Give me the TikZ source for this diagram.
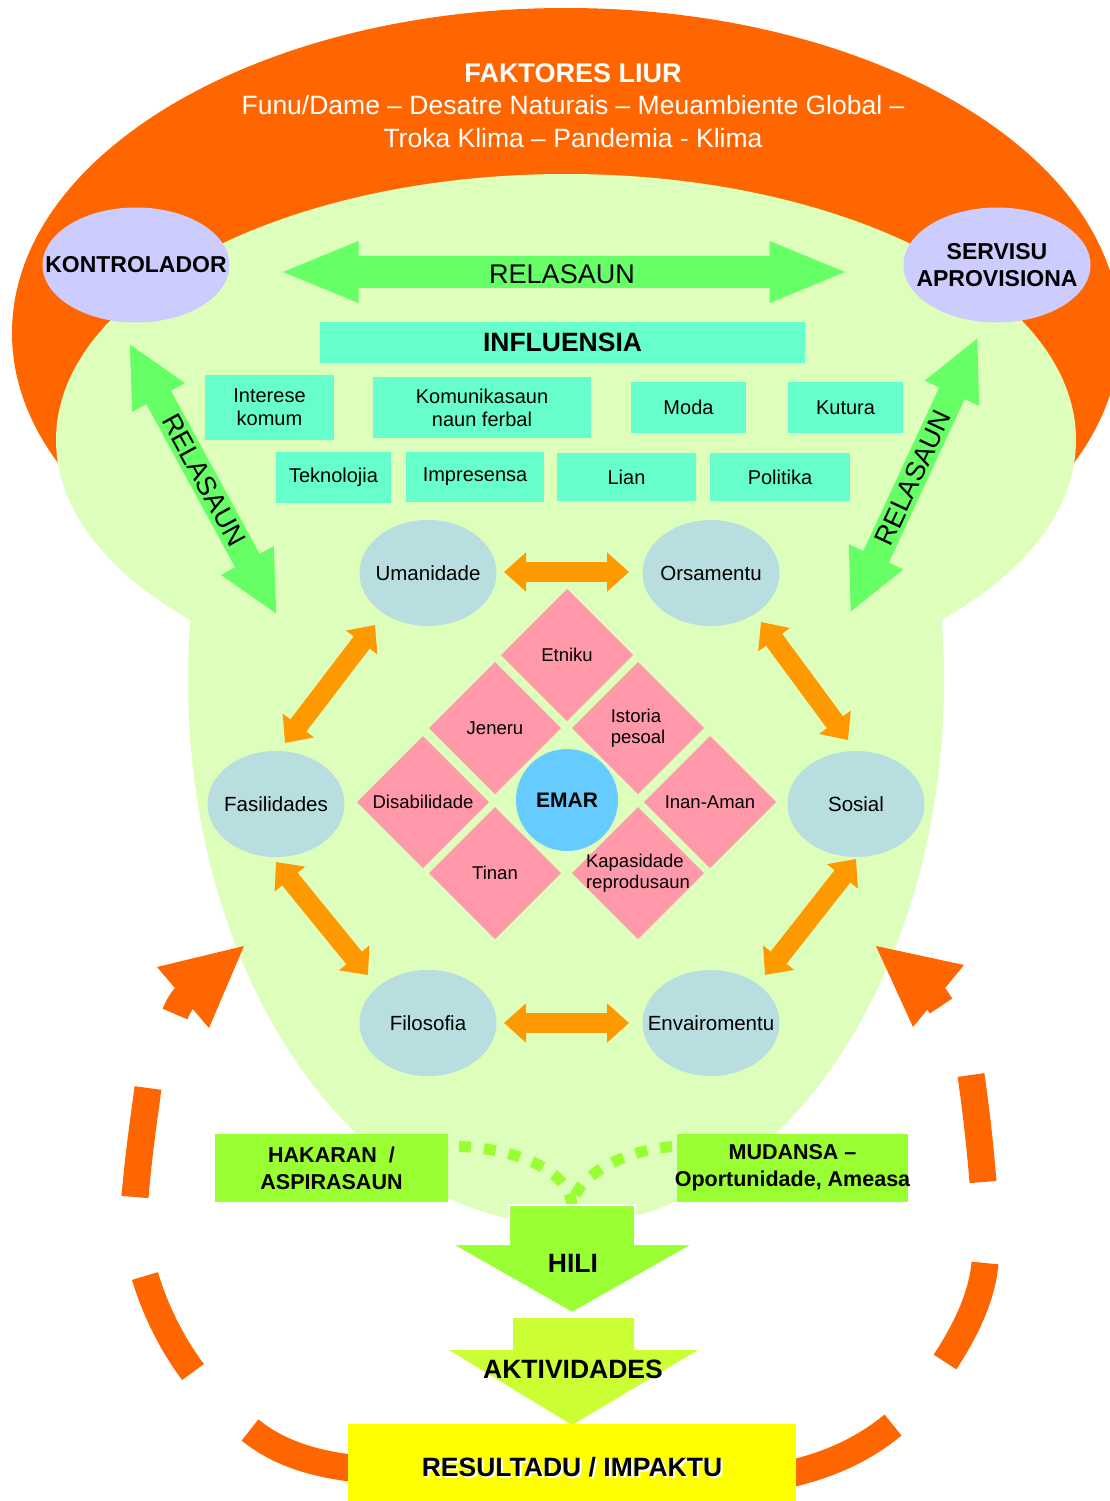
\documentclass[tikz,border=0pt]{standalone}
\usepackage{fontspec}
\setmainfont{Liberation Sans}
\usetikzlibrary{shapes.geometric,arrows.meta}
\definecolor{orangeA}{HTML}{FF6600}
\definecolor{lgreen}{HTML}{DDFFBB}
\definecolor{lav}{HTML}{CCCCFF}
\definecolor{garrow}{HTML}{66FF66}
\definecolor{aqua}{HTML}{66FFCC}
\definecolor{bgray}{HTML}{B8DEE0}
\definecolor{pinkd}{HTML}{FF99AA}
\definecolor{sky}{HTML}{66CCFF}
\definecolor{oarrow}{HTML}{FF9900}
\definecolor{limeA}{HTML}{99FF33}
\definecolor{limeB}{HTML}{CCFF33}
\definecolor{yel}{HTML}{FFFF00}
\tikzset{
  lavell/.style={ellipse, fill=lav, minimum width=187, minimum height=115},
  bgell/.style={ellipse, fill=bgray, minimum width=137, minimum height=106},
  aquabox/.style={rectangle, fill=aqua, align=center, font=\fontsize{20}{23}\selectfont},
  dia/.style={diamond, fill=pinkd, minimum width=132, minimum height=132},
  limebox/.style={rectangle, fill=limeA},
  arcdash/.style={draw=orangeA, line width=27pt, line cap=butt},
  oarr/.style={draw=oarrow, line width=20pt, arrows={Triangle[width=38pt,length=22pt]-Triangle[width=38pt,length=22pt]}},
  garr/.style={draw=garrow, line width=28pt, arrows={Triangle[width=55pt,length=62pt]-Triangle[width=55pt,length=62pt]}},
  garrh/.style={draw=garrow, line width=32pt, arrows={Triangle[width=55pt,length=80pt]-Triangle[width=55pt,length=80pt]}},
  dotg/.style={draw=limeA, line width=11pt, dash pattern=on 12pt off 13pt},
  eltext/.style={font=\fontsize{20.5}{23}\selectfont},
  dtext/.style={font=\fontsize{18.5}{21.5}\selectfont, align=left},
  boldtext/.style={font=\bfseries\fontsize{23}{27}\selectfont, align=center},
  reltext/.style={font=\fontsize{27}{30}\selectfont},
  bigbold/.style={font=\bfseries\fontsize{26.5}{30}\selectfont},
  midbold/.style={font=\bfseries\fontsize{21.5}{27}\selectfont, align=center}
}
\begin{document}
\begin{tikzpicture}[x=1pt,y=-1pt,every node/.style={inner sep=0pt,outer sep=0pt}]
\useasboundingbox (0,0) rectangle (1110,1501);
\fill[white] (0,0) rectangle (1110,1501);
\begin{scope}
\clip (0,0) rectangle (1110,1501);
\fill[orangeA] (566,333) ellipse [x radius=554, y radius=325];
\fill[lgreen] (566,440) ellipse [x radius=510, y radius=266];
\clip (0,440) rectangle (1110,1501);
\fill[lgreen] (566,680) ellipse [x radius=378, y radius=545];
\end{scope}

% title
\node[font=\bfseries\fontsize{27}{32}\selectfont, text=white, anchor=base] (title) at (573,83) {FAKTORES LIUR};
\node[font=\fontsize{26.5}{32}\selectfont, text=white, anchor=base] (sub1) at (573,114) {Funu/Dame – Desatre Naturais – Meuambiente Global –};
\node[font=\fontsize{26.5}{32}\selectfont, text=white, anchor=base] (sub2) at (573,147) {Troka Klima – Pandemia - Klima};

% lavender ellipses
\node[lavell, label={[boldtext]center:KONTROLADOR}] (kont) at (136,265) {};
\node[lavell, label={[boldtext]center:{SERVISU\\APROVISIONA}}] (serv) at (997,265) {};

% green relation arrows
\draw[garrh, shorten <=49pt, shorten >=54pt] ([yshift=-7pt]kont.east) -- ([yshift=-7pt]serv.west);
\node[reltext] (relh) at (562,274) {RELASAUN};
\coordinate (gl1) at (129,343);
\coordinate (gl2) at (277,615);
\draw[garr] (gl1) -- (gl2);
\node[reltext, rotate=-61.4] (rell) at (204,480) {RELASAUN};
\coordinate (gr1) at (978,337);
\coordinate (gr2) at (850,613);
\draw[garr] (gr1) -- (gr2);
\node[reltext, rotate=65.1] (relr) at (913,478) {RELASAUN};

% influence boxes
\node[rectangle, fill=aqua, minimum width=485, minimum height=41, bigbold] (infl) at (562.5,342.5) {INFLUENSIA};
\node[aquabox, minimum width=129, minimum height=65] (inter) at (269.5,407.5) {Interese\\komum};
\node[aquabox, minimum width=218, minimum height=61] (komu) at (482,407.5) {Komunikasaun\\naun ferbal};
\node[aquabox, minimum width=115, minimum height=51] (moda) at (688.5,407.5) {Moda};
\node[aquabox, minimum width=115, minimum height=51] (kutu) at (845.5,407.5) {Kutura};
\node[aquabox, minimum width=115, minimum height=51] (tekn) at (333.5,477.5) {Teknolojia};
\node[aquabox, minimum width=138, minimum height=50] (impr) at (475,477) {Impresensa};
\node[aquabox, minimum width=139, minimum height=48] (lian) at (626.5,477) {Lian};
\node[aquabox, minimum width=140, minimum height=48] (poli) at (780,477) {Politika};

% ring ellipses
\node[bgell, label={[eltext]center:Umanidade}] (uman) at (428,573) {};
\node[bgell, label={[eltext]center:Orsamentu}] (orsa) at (711,573) {};
\node[bgell, label={[eltext]center:Fasilidades}] (fasi) at (276,804) {};
\node[bgell, label={[eltext]center:Sosial}] (sosi) at (856,804) {};
\node[bgell, label={[eltext]center:Filosofia}] (filo) at (428,1023) {};
\node[bgell, label={[eltext]center:Envairomentu}] (enva) at (711,1023) {};

% orange ring arrows
\coordinate (a1) at (504,572); \coordinate (a2) at (629,572);
\draw[oarr] (a1) -- (a2);
\coordinate (b1) at (285,743); \coordinate (b2) at (375,625);
\draw[oarr] (b1) -- (b2);
\coordinate (c1) at (761,622); \coordinate (c2) at (848,740);
\draw[oarr] (c1) -- (c2);
\coordinate (d1) at (276,862); \coordinate (d2) at (368,975);
\draw[oarr] (d1) -- (d2);
\coordinate (e1) at (856,859); \coordinate (e2) at (765,975);
\draw[oarr] (e1) -- (e2);
\coordinate (f1) at (504,1023); \coordinate (f2) at (629,1023);
\draw[oarr] (f1) -- (f2);

% diamonds
\node[dia, label={[dtext]center:Etniku}] (etni) at (567,655) {};
\node[dia, label={[dtext]center:Jeneru}] (jene) at (495,728) {};
\node[dia, label={[dtext]center:{Istoria\\pesoal}}] (isto) at (638,728) {};
\node[dia, label={[dtext]center:Disabilidade}] (disa) at (423,802) {};
\node[dia, label={[dtext]center:Inan-Aman}] (inan) at (710,802) {};
\node[dia, label={[dtext]center:Tinan}] (tina) at (495,873) {};
\node[dia, label={[dtext]center:{Kapasidade\\reprodusaun}}] (kapa) at (638,873) {};
\node[circle, fill=sky, minimum size=102, font=\bfseries\fontsize{21}{24}\selectfont] (emar) at (567,800) {EMAR};

% bottom
\node[limebox, minimum width=233, minimum height=68, label={[midbold]center:{HAKARAN~~/\\ASPIRASAUN}}] (hak) at (331.5,1168) {};
\node[limebox, minimum width=231, minimum height=68, label={[midbold]center:{MUDANSA –\\Oportunidade, Ameasa}}] (mud) at (792.5,1168) {};
\coordinate (dl) at (448,1146);
\coordinate (dr) at (677,1146);
\coordinate (ht) at (572,1206);
\draw[dotg, dash phase=14pt] (dl) .. controls (520,1147) and (570,1172) .. (ht);
\draw[dotg, dash phase=20pt] (dr) .. controls (622,1150) and (576,1176) .. (ht);

\fill[limeA, draw=white, line width=2pt] (509,1205) -- (635,1205) -- (635,1244) -- (694,1244) -- (572,1313) -- (451,1244) -- (509,1244) -- cycle;
\node[bigbold] (hili) at (573,1263) {HILI};
\fill[limeB] (513,1318) -- (634,1318) -- (634,1350) -- (698,1350) -- (572,1425) -- (449,1350) -- (513,1350) -- cycle;
\node[bigbold] (akti) at (573,1369) {AKTIVIDADES};

% dashed cycle arc
\draw[arcdash] (175,1014) .. controls (179,1004) and (184,997) .. (192,990);
\fill[orangeA] (244,946) -- (157,967) -- (209,1028) -- cycle;
\draw[arcdash] (148,1088) .. controls (143,1125) and (138,1160) .. (135,1197);
\draw[arcdash] (145,1276) .. controls (155,1310) and (172,1344) .. (193,1372);
\draw[arcdash] (250,1430) .. controls (281,1455) and (320,1466) .. (370,1470);
\draw[arcdash] (941,1006) .. controls (937,1000) and (932,992) .. (925,984);
\fill[orangeA] (876,946) -- (964,965) -- (913,1027) -- cycle;
\draw[arcdash] (971,1075) .. controls (976,1110) and (980,1145) .. (983,1182);
\draw[arcdash] (985,1263) .. controls (982,1298) and (964,1333) .. (945,1362);
\draw[arcdash] (893,1425) .. controls (865,1448) and (830,1466) .. (780,1476);

\node[rectangle, fill=yel, minimum width=448, minimum height=77] (resu) at (572,1462.5) {};
\node[bigbold, text=white] at (574,1469) {RESULTADU / IMPAKTU};
\node[bigbold] (resut) at (572,1467) {RESULTADU / IMPAKTU};
\end{tikzpicture}
\end{document}
